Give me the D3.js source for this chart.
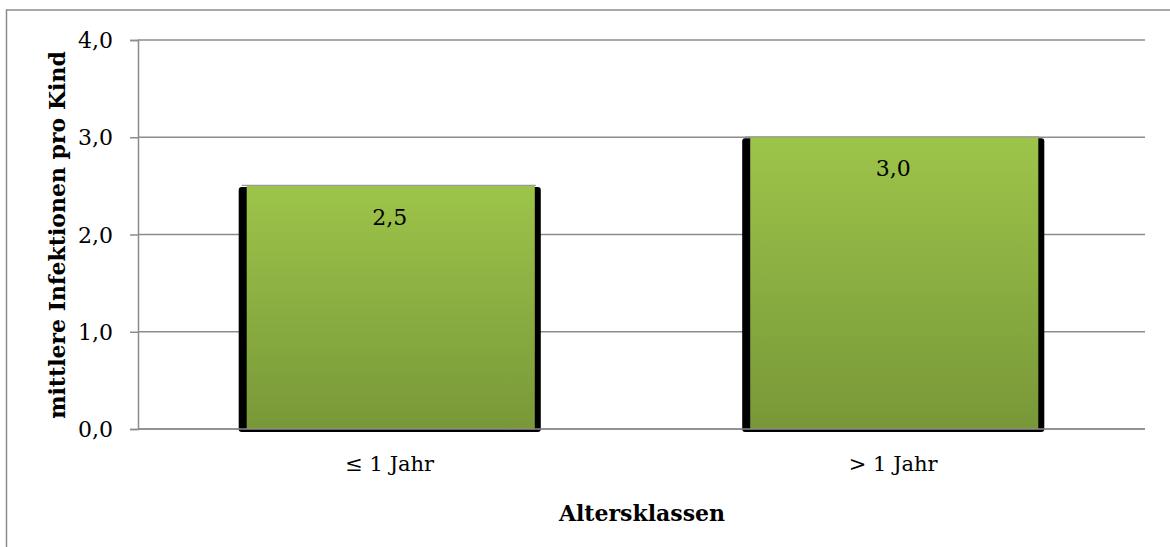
<!DOCTYPE html>
<html>
<head>
<meta charset="utf-8">
<script src="https://cdn.jsdelivr.net/npm/d3@7"></script>
<style>
  html, body { margin: 0; padding: 0; background: #fff; }
  svg { display: block; }
  text { font-family: "Palatino Linotype", "Book Antiqua", Palatino, "DejaVu Serif", serif; fill: #000; }
</style>
</head>
<body>
<svg id="chart" width="1170" height="547"></svg>
<script>
// Mittlere Anzahl Infektionen pro Kind nach Altersklasse
const categories = ["≤ 1 Jahr", "> 1 Jahr"];
const values = [2.5, 3.0];
const yTicks = [0, 1, 2, 3, 4];
const yTitle = "mittlere Infektionen pro Kind";
const xTitle = "Altersklassen";

const fmt = v => d3.format(".1f")(v).replace(".", ",");

const svg = d3.select("#chart");
const W = 1170, H = 547;
const plot = { left: 138, right: 1145, top: 40, bottom: 429 };

// outer chart frame (runs past the right and bottom edges of the page)
svg.append("rect")
  .attr("x", 6.5).attr("y", 10)
  .attr("width", W + 20).attr("height", H + 20)
  .attr("fill", "#fff").attr("stroke", "#8c8c8c").attr("stroke-width", 1.5);

const x = d3.scaleBand()
  .domain(categories)
  .range([plot.left, plot.right])
  .paddingInner(0.4)
  .paddingOuter(0.2);

const y = d3.scaleLinear()
  .domain([0, 4])
  .range([plot.bottom, plot.top]);

// horizontal gridlines
svg.append("g")
  .selectAll("line")
  .data(yTicks)
  .join("line")
  .attr("x1", plot.left).attr("x2", plot.right)
  .attr("y1", d => y(d)).attr("y2", d => y(d))
  .attr("stroke", "#8c8c8c").attr("stroke-width", 1.5);

// y axis with outward ticks
const yAxis = svg.append("g")
  .attr("transform", `translate(${plot.left},0)`)
  .call(d3.axisLeft(y).tickValues(yTicks).tickFormat(fmt).tickSize(8).tickPadding(17));
yAxis.select(".domain").attr("stroke", "#8c8c8c").attr("stroke-width", 1.5);
yAxis.selectAll(".tick line").attr("stroke", "#8c8c8c").attr("stroke-width", 1.5);
yAxis.selectAll(".tick text")
  .attr("font-family", null)
  .attr("font-size", 22)
  .attr("dy", "0.35em");

// bar gradient
const defs = svg.append("defs");
const grad = defs.append("linearGradient")
  .attr("id", "barFill").attr("x1", 0).attr("y1", 0).attr("x2", 0).attr("y2", 1);
grad.append("stop").attr("offset", "0%").attr("stop-color", "#9dc44a");
grad.append("stop").attr("offset", "100%").attr("stop-color", "#789838");

const bars = svg.append("g").selectAll("g")
  .data(categories.map((c, i) => ({ c, v: values[i] })))
  .join("g");

// dark shadow body behind each bar
bars.append("rect")
  .attr("x", d => x(d.c))
  .attr("y", d => y(d.v) + 1)
  .attr("width", x.bandwidth())
  .attr("height", d => y(0) - y(d.v) + 2)
  .attr("rx", 3)
  .attr("fill", "#000");

// green face of each bar
bars.append("rect")
  .attr("x", d => x(d.c) + 8)
  .attr("y", d => y(d.v))
  .attr("width", x.bandwidth() - 14)
  .attr("height", d => y(0) - y(d.v))
  .attr("fill", "url(#barFill)");

// light top edge
bars.append("line")
  .attr("x1", d => x(d.c) + 3).attr("x2", d => x(d.c) + x.bandwidth() - 5)
  .attr("y1", d => y(d.v) - 0.5).attr("y2", d => y(d.v) - 0.5)
  .attr("stroke", "#9a9a9a").attr("stroke-width", 1.2);

// value labels inside the bars
bars.append("text")
  .attr("x", d => x(d.c) + x.bandwidth() / 2)
  .attr("y", d => y(d.v) + 39)
  .attr("text-anchor", "middle")
  .attr("font-size", 22)
  .text(d => fmt(d.v));

// x axis baseline
svg.append("line")
  .attr("x1", plot.left).attr("x2", plot.right)
  .attr("y1", y(0)).attr("y2", y(0))
  .attr("stroke", "#8c8c8c").attr("stroke-width", 1.5);

// category labels
svg.append("g").selectAll("text")
  .data(categories)
  .join("text")
  .attr("x", d => x(d) + x.bandwidth() / 2)
  .attr("y", 471)
  .attr("text-anchor", "middle")
  .attr("font-size", 21)
  .text(d => d);

// axis titles
svg.append("text")
  .attr("x", (plot.left + plot.right) / 2 + 0.5)
  .attr("y", 521)
  .attr("text-anchor", "middle")
  .attr("font-size", 22)
  .attr("font-weight", "bold")
  .text(xTitle);

svg.append("text")
  .attr("transform", `translate(65,235) rotate(-90)`)
  .attr("text-anchor", "middle")
  .attr("font-size", 22)
  .attr("font-weight", "bold")
  .text(yTitle);
</script>
</body>
</html>
